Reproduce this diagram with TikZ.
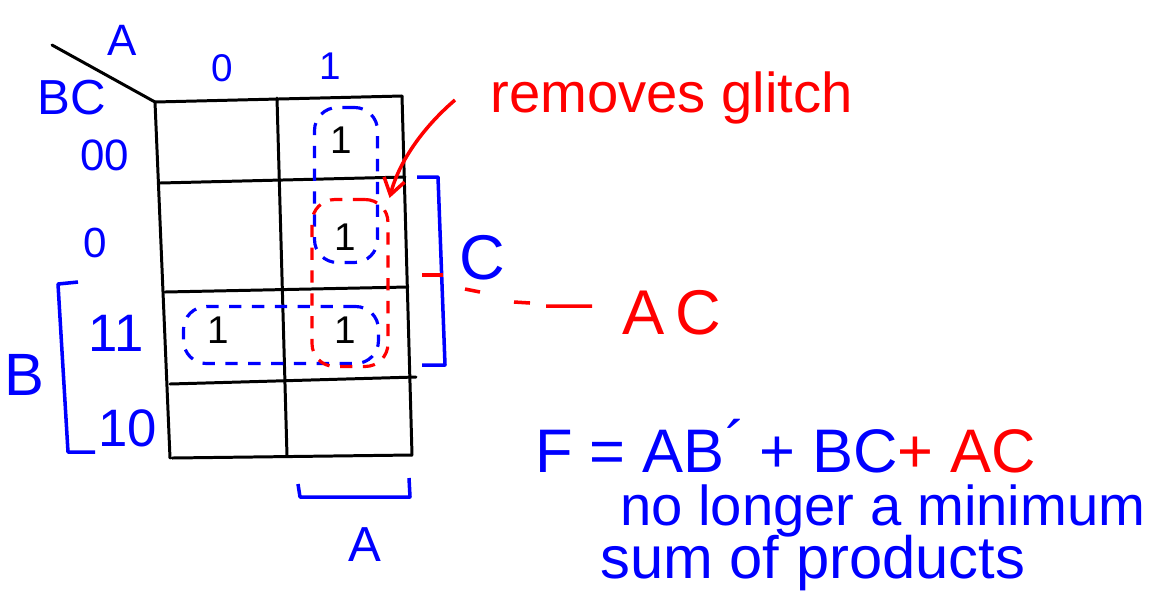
\documentclass[tikz,border=0pt]{standalone}
\usepackage{fontspec}
\setmainfont{Liberation Sans}
\usetikzlibrary{arrows.meta}
\newcommand{\fsz}[1]{\fontsize{#1}{#1}\selectfont}
\begin{document}
\begin{tikzpicture}[x=0.02cm,y=-0.02cm,
  grid/.style={line width=1.7pt, black, line cap=round},
  bl/.style={blue, line width=2pt, line join=round},
  rd/.style={red, line width=2pt},
  lab/.style={text=blue, inner sep=0pt},
  rlab/.style={text=red, inner sep=0pt},
  one/.style={text=black, inner sep=0pt, font=\fsz{22}},
  grp/.style={draw, dash pattern=on 7pt off 6pt, line width=1.8pt, rounded corners=13pt, inner sep=0pt},
]
\useasboundingbox (0,0) rectangle (1166,603);
\fill[white] (0,0) rectangle (1166,603);

% grid
\draw[grid] (52,45) -- (155,102);
\draw[grid] (155,102) -- (402,96);
\draw[grid] (160,183) -- (405,177);
\draw[grid] (165,292) -- (408,287);
\draw[grid] (170,384) -- (416,377);
\draw[grid] (172,458) -- (412,455);
\draw[grid] (155,102) -- (170,458);
\draw[grid] (277,98) -- (287,456);
\draw[grid] (402,96) -- (412,455);

% labels
\node[lab, font=\fsz{25}] (lA) at (122,40) {A};
\node[lab, font=\fsz{28}] (lBC) at (72,98) {BC};
\node[lab, font=\fsz{22}] (c0) at (222,68) {0};
\node[lab, font=\fsz{22}] (c1) at (330,66) {1};
\node[lab, font=\fsz{25}] (r00) at (105,155) {00};
\node[lab, font=\fsz{24}] (r01) at (95,243) {0};
\node[lab, font=\fsz{30}] (r11) at (116,333) {11};
\node[lab, font=\fsz{30}] (r10) at (128,428) {10};
\node[lab, font=\fsz{34}] (lB) at (24,375) {B};
\draw[bl] (78,282) -- (58,284) -- (68,452) -- (95,452);

% ones
\node[one] (m4) at (341,140) {1};
\node[one] (m5) at (345,237) {1};
\node[one] (m7) at (345,330) {1};
\node[one] (m3) at (218,330) {1};

% groups
\node[grp, blue, minimum width=1.26cm, minimum height=3.1cm] (gAB) at (346,185) {};
\node[grp, blue, minimum width=3.9cm, minimum height=1.14cm] (gBC) at (281,335) {};
\node[grp, red, minimum width=1.52cm, minimum height=3.34cm] (gAC) at (350,283) {};

% annotation
\node[rlab, font=\fsz{32}, anchor=base west] (glitch) at (490,112) {removes glitch};
\coordinate (arrstart) at (455,100);
\draw[rd, -{Straight Barb[length=9pt,width=12pt]}] (arrstart) .. controls (420,130) and (398,165) .. (gAC.north east);

% right bracket C
\draw[bl] (417,177) -- (438,177) -- (445,365) -- (422,365);
\draw[rd] (422,275) -- (443,275);
\node[lab, font=\fsz{36}] (lC) at (482,258) {C};
\draw[rd] (465,289) -- (480,292) (514,302) -- (530,303) (546,306) -- (592,306);
\node[rlab, font=\fsz{36}] (lAC) at (672,313) {A\,C};

% bottom bracket A
\draw[bl] (298,484) -- (300,497) -- (410,497) -- (409,478);
\node[lab, font=\fsz{28}] (lA2) at (365,545) {A};

% equation
\node[lab, font=\fsz{35}, anchor=base west] (eq) at (535,472) {F = AB\raisebox{0.12em}{´}\kern-2pt{} + BC{\color{red}+ AC}};
\node[lab, font=\fsz{32}, anchor=base west] (nl) at (620,525) {no longer a minimum};
\node[lab, font=\fsz{34}, anchor=base west] (sp) at (600,578) {sum of products};
\end{tikzpicture}
\end{document}
